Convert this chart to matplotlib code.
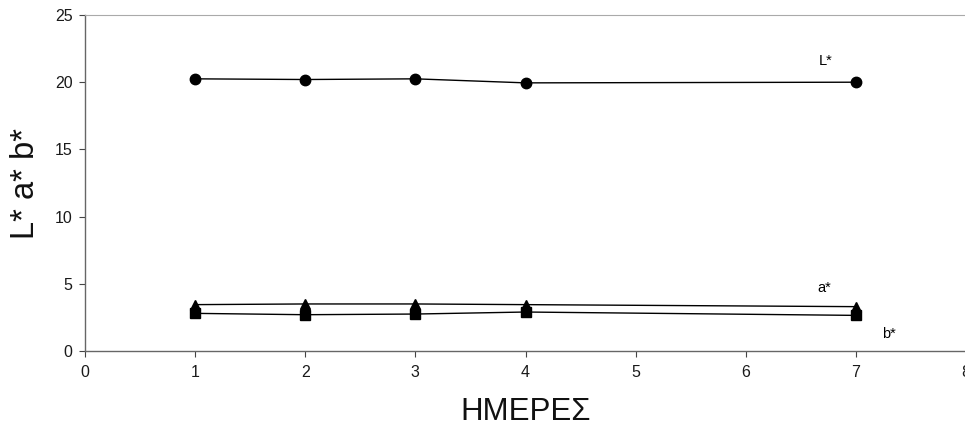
import matplotlib
matplotlib.use("Agg")
import matplotlib.pyplot as plt

plt.rcParams['font.family'] = ['Liberation Sans', 'DejaVu Sans']

days = [1, 2, 3, 4, 7]
L_vals = [20.25, 20.2, 20.25, 19.95, 20.0]
a_vals = [3.45, 3.5, 3.5, 3.45, 3.3]
b_vals = [2.8, 2.7, 2.75, 2.9, 2.65]

fig = plt.figure(figsize=(9.65, 4.25), dpi=100)
ax = fig.add_axes([85/965, 74/425, 881/965, 336/425])

ax.plot(days, L_vals, color='black', lw=1.0, marker='o', ms=7.5)
ax.plot(days, a_vals, color='black', lw=1.0, marker='^', ms=7.5)
ax.plot(days, b_vals, color='black', lw=1.0, marker='s', ms=6.5)

ax.text(6.66, 21.25, 'L*', fontsize=10.5)
ax.text(6.65, 4.4, 'a*', fontsize=10.5)
ax.text(7.24, 0.97, 'b*', fontsize=10.5)

ax.set_xlim(0, 8)
ax.set_ylim(0, 25)
ax.set_xticks(range(0, 9))
ax.set_yticks(range(0, 26, 5))
ax.tick_params(labelsize=11.5, length=4, width=0.8, colors='#444444', labelcolor='#1a1a1a')
ax.tick_params(axis='x', pad=6)
ax.tick_params(axis='y', pad=5)

for s in ['left', 'bottom']:
    ax.spines[s].set_color('#666666')
    ax.spines[s].set_linewidth(1.0)
ax.spines['top'].set_color('#aaaaaa')
ax.spines['top'].set_linewidth(0.8)
ax.spines['right'].set_visible(False)

ax.set_ylabel('L* a* b*', fontsize=23.5, labelpad=10, color='#111111')
ax.set_xlabel('ΗΜΕΡΕΣ', fontsize=22.5, labelpad=12, color='#111111')

fig.savefig('out.png', dpi=100)
